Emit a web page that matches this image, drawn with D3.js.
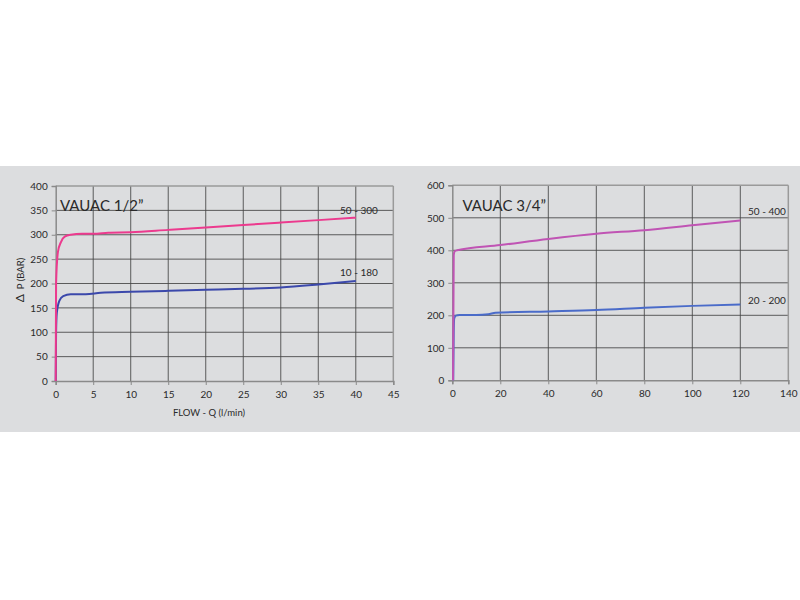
<!DOCTYPE html>
<html>
<head>
<meta charset="utf-8">
<script src="https://cdn.jsdelivr.net/npm/d3@7"></script>
<style>
html,body{margin:0;padding:0;background:#fff;}
svg{display:block;}
text{font-family:Lato,"DejaVu Sans",sans-serif;fill:#2a2a2a;}
</style>
</head>
<body>
<svg id="c" width="800" height="600"></svg>
<script>
// ---- data ----
const leftTitle = "VAUAC 1/2\u201D";
const rightTitle = "VAUAC 3/4\u201D";
const leftXTicks = [0,5,10,15,20,25,30,35,40,45];
const leftYTicks = [0,50,100,150,200,250,300,350,400];
const rightXTicks = [0,20,40,60,80,100,120,140];
const rightYTicks = [0,100,200,300,400,500,600];

const left50_300_q = [0,0.05,0.3,0.7,1.2,2,3.5,5,7,10,15,20,25,30,35,40];
const left50_300_p = [0,200,265,285,296,300,302,302,304,305,310,315,320,325,330,335];
const left10_180_q = [0,0.05,0.15,0.5,1,2,4,6,10,15,20,25,30,35,40];
const left10_180_p = [0,100,140,165,174,178,178,181,183,185,187,189,192,198,205];

const right50_400_q = [0.3,0.6,1,2,20,40,60,80,100,120];
const right50_400_p = [0,385,397,400,416,435,451,462,477,492];
const right20_200_q = [0.4,0.6,0.8,1.5,3,10,15,18,40,60,80,100,120];
const right20_200_p = [0,150,190,199,201,201,203,208,212,216,223,229,233];

const svg = d3.select("#c");
svg.append("rect").attr("x",0).attr("y",166).attr("width",800).attr("height",266).attr("fill","#dcdddf");

function panel(opt){
  const x = d3.scaleLinear().domain(opt.xDomain).range([opt.x0,opt.x1]);
  const y = d3.scaleLinear().domain(opt.yDomain).range([opt.yB,opt.yT]);
  const g = svg.append("g");
  // grid
  g.selectAll(".vg").data(opt.xTicks.slice(1,-1)).enter().append("line")
    .attr("x1",d=>x(d)).attr("x2",d=>x(d)).attr("y1",opt.yT).attr("y2",opt.yB)
    .attr("stroke","#454545").attr("stroke-width",1).attr("opacity",0.85);
  g.selectAll(".hg").data(opt.yTicks.slice(1,-1)).enter().append("line")
    .attr("y1",d=>y(d)).attr("y2",d=>y(d)).attr("x1",opt.x0).attr("x2",opt.x1)
    .attr("stroke","#454545").attr("stroke-width",1).attr("opacity",0.85);
  // border top/right
  g.append("line").attr("x1",opt.x0).attr("x2",opt.x1).attr("y1",opt.yT).attr("y2",opt.yT).attr("stroke","#9a9a9a").attr("stroke-width",1.5);
  g.append("line").attr("x1",opt.x1).attr("x2",opt.x1).attr("y1",opt.yT).attr("y2",opt.yB).attr("stroke","#9a9a9a").attr("stroke-width",1.5);
  // axes
  const ax = g.append("g").attr("transform",`translate(0,${opt.yB})`)
    .call(d3.axisBottom(x).tickValues(opt.xTicks).tickSize(4).tickPadding(6));
  const ay = g.append("g").attr("transform",`translate(${opt.x0},0)`)
    .call(d3.axisLeft(y).tickValues(opt.yTicks).tickSize(4).tickPadding(4));
  [ax,ay].forEach(a=>{
    a.select(".domain").attr("stroke","#8a8a8a").attr("stroke-width",1.5);
    a.selectAll(".tick line").attr("stroke","#8a8a8a");
    a.selectAll("text").attr("font-size",10).attr("fill","#2a2a2a").style("font-family","Lato,'DejaVu Sans',sans-serif");
  });
  // title
  g.append("text").attr("x",opt.titleX).attr("y",211).attr("font-size",15).text(opt.title);
  // series
  const line = d3.line().x(d=>x(d[0])).y(d=>y(d[1])).curve(d3.curveMonotoneX);
  opt.series.forEach(s=>{
    const pts = s.q.map((q,i)=>[q,s.p[i]]);
    g.append("path").datum(pts).attr("d",line).attr("fill","none")
      .attr("stroke",s.color).attr("stroke-width",2).attr("stroke-linejoin","round");
    g.append("text").attr("x",s.lx).attr("y",s.ly).attr("font-size",10).text(s.label);
  });
  return {x,y};
}

panel({
  xDomain:[0,45], yDomain:[0,400], x0:55.7, x1:393.3, yT:186, yB:381,
  xTicks:leftXTicks, yTicks:leftYTicks, title:leftTitle, titleX:60,
  series:[
    {q:left10_180_q,p:left10_180_p,color:"#3b48ab",label:"10 - 180",lx:340,ly:276},
    {q:left50_300_q,p:left50_300_p,color:"#ec3a8e",label:"50 - 300",lx:340,ly:214}
  ]
});
panel({
  xDomain:[0,140], yDomain:[0,600], x0:452.3, x1:788.3, yT:185.3, yB:380.3,
  xTicks:rightXTicks, yTicks:rightYTicks, title:rightTitle, titleX:462.5,
  series:[
    {q:right20_200_q,p:right20_200_p,color:"#4a6bc9",label:"20 - 200",lx:748,ly:304},
    {q:right50_400_q,p:right50_400_p,color:"#c054b4",label:"50 - 400",lx:748,ly:215}
  ]
});

// axis titles
svg.append("text").attr("x",209).attr("y",416).attr("text-anchor","middle")
  .attr("font-size",9.5).text("FLOW - Q (l/min)");
const yt = svg.append("text").attr("transform","translate(24,280) rotate(-90)").attr("text-anchor","middle")
  .attr("font-size",9.5).attr("xml:space","preserve");
yt.append("tspan").attr("font-size",12).text("\u0394");
yt.append("tspan").text("  P (BAR)");
</script>
</body>
</html>
